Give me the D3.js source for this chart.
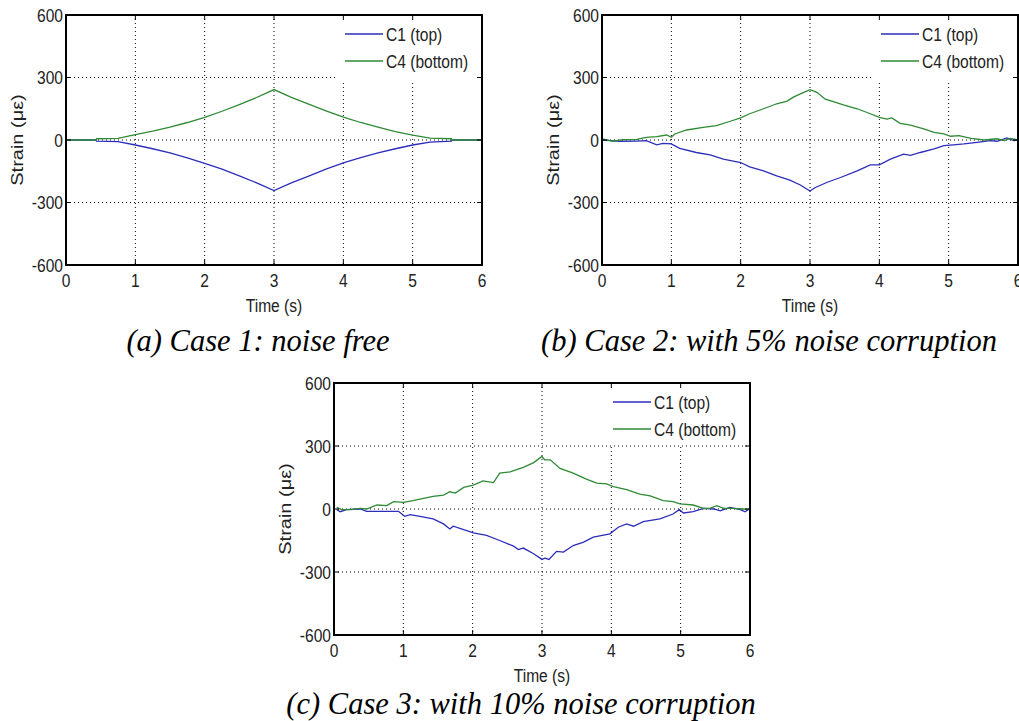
<!DOCTYPE html>
<html>
<head>
    <meta charset="utf-8" />
    <script src="https://d3js.org/d3.v7.min.js"></script>
    <style>
        body { margin: 0; background: #fff; }
        svg text.ax { font-family: "Liberation Sans", Arial, sans-serif; }
        svg text.cap { font-family: "Liberation Serif", "Times New Roman", serif; font-style: italic; }
    </style>
</head>
<body>
<svg width="1019" height="721"></svg>
<script>
    // tick values
    var xTicks = [0, 1, 2, 3, 4, 5, 6];
    var yTicks = [-600, -300, 0, 300, 600];
    var seriesNames = ["C1 (top)", "C4 (bottom)"];
    var captions = ["(a) Case 1: noise free", "(b) Case 2: with 5% noise corruption", "(c) Case 3: with 10% noise corruption"];

    // case 1 - noise free
    var tA = [0, 0.43, 0.44, 0.75, 1, 1.25, 1.5, 1.75, 2, 2.25, 2.5, 2.75, 3, 3.25, 3.5, 3.75, 4, 4.25, 4.5, 4.75, 5, 5.25, 5.56, 5.57, 6];
    var c4A = [0, 0, 6, 8, 26, 43, 62, 84, 109, 138, 170, 204, 242, 205, 172, 140, 110, 84, 62, 40, 23, 9, 6, 0, 0];
    var c1A = [0, 0, -5, -8, -24, -42, -62, -86, -112, -140, -172, -206, -243, -206, -173, -140, -110, -85, -62, -42, -24, -10, -5, 0, 0];

    // case 2 - 5% noise
    var tB4 = [0, 0.16, 0.3, 0.5, 0.64, 0.79, 0.93, 1.0, 1.05, 1.22, 1.46, 1.65, 1.85, 2.0, 2.13, 2.33, 2.52, 2.67, 2.76, 2.91, 3.0, 3.1, 3.22, 3.36, 3.48, 3.68, 3.87, 4.0, 4.11, 4.18, 4.3, 4.45, 4.64, 4.79, 4.93, 5.03, 5.15, 5.32, 5.51, 5.7, 5.8, 5.89, 6.0];
    var c4B = [5, -6, 2, 3, 13, 16, 24, 13, 29, 48, 61, 69, 90, 106, 126, 150, 174, 187, 206, 229, 242, 229, 196, 182, 169, 150, 126, 109, 100, 106, 80, 71, 53, 37, 29, 18, 21, 8, 0, 6, -3, 8, 0];
    var tB1 = [0, 0.11, 0.26, 0.5, 0.64, 0.79, 0.88, 1.0, 1.12, 1.36, 1.56, 1.75, 2.0, 2.13, 2.33, 2.52, 2.71, 2.86, 3.0, 3.07, 3.24, 3.44, 3.68, 3.87, 4.0, 4.16, 4.35, 4.45, 4.59, 4.79, 4.93, 5.07, 5.22, 5.41, 5.6, 5.7, 5.84, 5.94, 6.0];
    var c1B = [0, -3, -6, -5, -3, -23, -16, -19, -40, -60, -71, -92, -108, -129, -148, -172, -193, -216, -245, -229, -204, -180, -148, -119, -119, -92, -68, -74, -60, -43, -27, -23, -19, -11, -3, -6, 10, -3, 0];

    // case 3 - 10% noise
    var tC4 = [0.04, 0.11, 0.23, 0.38, 0.47, 0.62, 0.76, 0.86, 1.0, 1.14, 1.24, 1.43, 1.58, 1.67, 1.75, 1.87, 2.01, 2.15, 2.3, 2.39, 2.54, 2.73, 2.88, 3.0, 3.04, 3.12, 3.26, 3.45, 3.64, 3.79, 3.93, 4.03, 4.22, 4.41, 4.56, 4.75, 4.89, 4.99, 5.18, 5.33, 5.42, 5.52, 5.62, 5.76, 5.9, 6.0];
    var c4C = [8, -3, -3, 3, 0, 19, 16, 35, 32, 40, 47, 60, 66, 82, 76, 103, 114, 134, 126, 171, 177, 198, 221, 250, 234, 234, 193, 171, 142, 123, 120, 107, 92, 71, 63, 40, 35, 24, 19, 3, 3, 16, 3, 3, 0, -3];
    var tC1 = [0.04, 0.09, 0.18, 0.38, 0.47, 0.76, 0.93, 1.02, 1.1, 1.24, 1.43, 1.58, 1.67, 1.72, 1.87, 2.01, 2.2, 2.39, 2.59, 2.66, 2.73, 2.88, 3.0, 3.04, 3.1, 3.21, 3.31, 3.45, 3.6, 3.74, 3.98, 4.1, 4.22, 4.32, 4.46, 4.7, 4.89, 4.98, 5.04, 5.18, 5.33, 5.48, 5.57, 5.71, 5.86, 5.93, 6.0];
    var c1C = [-3, -13, -3, 0, -11, -11, -11, -35, -27, -35, -47, -71, -95, -82, -98, -114, -126, -150, -177, -193, -186, -213, -240, -234, -240, -202, -205, -174, -158, -134, -118, -87, -71, -82, -60, -47, -24, -3, -19, -13, 3, 0, -9, 8, -3, -13, 3];

    var blue = "#2d2dbb", green = "#2f8a35";

    var panels = [
        { left: 66, right: 482, top: 15, bottom: 265, cap: captions[0], capX: 258, capY: 351, legH: 66,
          series: [[tA, c1A, blue], [tA, c4A, green]] },
        { left: 602, right: 1018, top: 15, bottom: 265, cap: captions[1], capX: 769, capY: 351, legH: 66,
          series: [[tB1, c1B, blue], [tB4, c4B, green]] },
        { left: 334, right: 750, top: 383, bottom: 635, cap: captions[2], capX: 521, capY: 714, legH: 60,
          series: [[tC1, c1C, blue], [tC4, c4C, green]] }
    ];

    var svg = d3.select("svg");
    var fs = 19, sx = 0.82;

    panels.forEach(function (p) {
        var x = d3.scaleLinear().domain([0, 6]).range([p.left, p.right]);
        var y = d3.scaleLinear().domain([-600, 600]).range([p.bottom, p.top]);
        var g = svg.append("g");

        // grid
        g.selectAll(".gx").data(xTicks.slice(1, -1)).enter().append("line")
            .attr("x1", function (d) { return x(d); }).attr("x2", function (d) { return x(d); })
            .attr("y1", p.top).attr("y2", p.bottom)
            .attr("stroke", "#000").attr("stroke-width", 1).attr("stroke-dasharray", "1,3");
        g.selectAll(".gy").data(yTicks.slice(1, -1)).enter().append("line")
            .attr("y1", function (d) { return y(d); }).attr("y2", function (d) { return y(d); })
            .attr("x1", p.left).attr("x2", p.right)
            .attr("stroke", "#000").attr("stroke-width", 1).attr("stroke-dasharray", "1,3");

        // lines
        var line = d3.line();
        p.series.forEach(function (s) {
            var pts = s[0].map(function (t, i) { return [x(t), y(s[1][i])]; });
            g.append("path").attr("d", line(pts))
                .attr("fill", "none").attr("stroke", s[2]).attr("stroke-width", 1.3);
        });

        // legend
        var lx = p.right - 147;
        g.append("rect").attr("x", lx).attr("y", p.top + 1)
            .attr("width", p.right - lx - 1).attr("height", p.legH).attr("fill", "#fff");
        [blue, green].forEach(function (c, i) {
            var ly = p.top + 19 + i * 27;
            g.append("line").attr("x1", p.right - 137).attr("x2", p.right - 99)
                .attr("y1", ly).attr("y2", ly).attr("stroke", c).attr("stroke-width", 1.3);
            g.append("text").attr("class", "ax").attr("transform", "translate(" + (p.right - 96) + "," + ly + ") scale(" + sx + ",1)")
                .attr("dy", "0.35em").attr("font-size", fs).attr("fill", "#222").text(seriesNames[i]);
        });

        // ticks on all four sides
        var tl = 5;
        xTicks.forEach(function (d) {
            g.append("line").attr("x1", x(d)).attr("x2", x(d)).attr("y1", p.bottom).attr("y2", p.bottom - tl).attr("stroke", "#000");
            g.append("line").attr("x1", x(d)).attr("x2", x(d)).attr("y1", p.top).attr("y2", p.top + tl).attr("stroke", "#000");
            g.append("text").attr("class", "ax").attr("transform", "translate(" + x(d) + "," + (p.bottom + 15) + ") scale(" + sx + ",1)")
                .attr("text-anchor", "middle").attr("dy", "0.35em").attr("font-size", fs).attr("fill", "#222").text(d);
        });
        yTicks.forEach(function (d) {
            g.append("line").attr("y1", y(d)).attr("y2", y(d)).attr("x1", p.left).attr("x2", p.left + tl).attr("stroke", "#000");
            g.append("line").attr("y1", y(d)).attr("y2", y(d)).attr("x1", p.right).attr("x2", p.right - tl).attr("stroke", "#000");
            g.append("text").attr("class", "ax").attr("transform", "translate(" + (p.left - 3) + "," + y(d) + ") scale(" + sx + ",1)")
                .attr("text-anchor", "end").attr("dy", "0.35em").attr("font-size", fs).attr("fill", "#222").text(d);
        });

        // frame
        g.append("rect").attr("x", p.left).attr("y", p.top)
            .attr("width", p.right - p.left).attr("height", p.bottom - p.top)
            .attr("fill", "none").attr("stroke", "#000").attr("stroke-width", 2);

        // axis labels
        g.append("text").attr("class", "ax").attr("transform", "translate(" + ((p.left + p.right) / 2) + "," + (p.bottom + 40) + ") scale(" + sx + ",1)")
            .attr("text-anchor", "middle").attr("dy", "0.35em").attr("font-size", fs).attr("fill", "#222").text("Time (s)");
        g.append("text").attr("class", "ax").attr("transform", "translate(" + (p.left - 49) + "," + ((p.top + p.bottom) / 2) + ") scale(" + sx + ",1) rotate(-90)")
            .attr("text-anchor", "middle").attr("dy", "0.35em").attr("font-size", 20).attr("fill", "#222").text("Strain (με)");

        // caption
        g.append("text").attr("class", "cap").attr("x", p.capX).attr("y", p.capY)
            .attr("text-anchor", "middle").attr("font-size", 30.5).attr("fill", "#000").text(p.cap);
    });
</script>
</body>
</html>
